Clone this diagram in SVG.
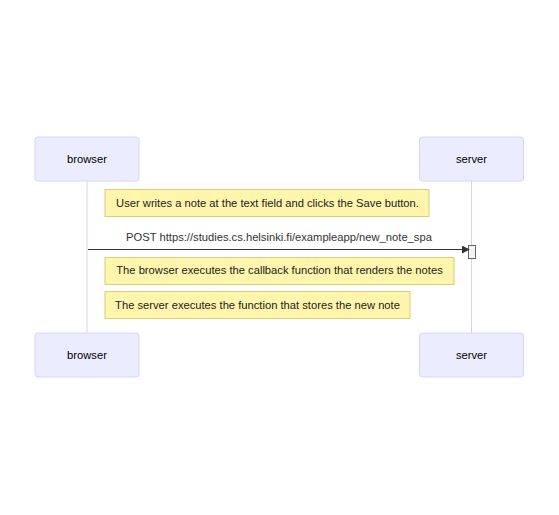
<svg xmlns="http://www.w3.org/2000/svg" width="559" height="515" viewBox="0 0 559 515">
  <style>
    .actor { fill: #ececff; stroke: #d5d5f7; stroke-width: 1; }
    .actor-text { font-family: "Liberation Sans", Arial, sans-serif; font-size: 11.2px; fill: #000; text-anchor: middle; dominant-baseline: central; }
    .lifeline { stroke: #d8d0f0; stroke-width: 1; }
    .note { fill: #fff5ad; stroke: #d6d07a; stroke-width: 1; }
    .note-text { font-family: "Liberation Sans", Arial, sans-serif; font-size: 11.2px; fill: #222; text-anchor: middle; dominant-baseline: central; }
    .msg-text { font-family: "Liberation Sans", Arial, sans-serif; font-size: 11.2px; fill: #333; text-anchor: middle; dominant-baseline: central; }
    .msg-line { stroke: #333; stroke-width: 1.2; fill: none; }
    .activation { fill: #f4f4f4; stroke: #666; stroke-width: 1; }
  </style>
  <defs>
    <marker id="arrowhead" viewBox="0 0 10 10" refX="9" refY="5" markerWidth="8" markerHeight="8" markerUnits="userSpaceOnUse" orient="auto">
      <path d="M0,0 L10,5 L0,10 z" fill="#333"/>
    </marker>
  </defs>
  <rect width="559" height="515" fill="#fff"/>

  <g id="lifelines">
    <line class="lifeline" x1="87" y1="181" x2="87" y2="333"/>
    <line class="lifeline" x1="471.5" y1="181" x2="471.5" y2="333"/>
  </g>

  <g id="browser-top">
    <rect class="actor" x="35" y="137" width="104" height="44" rx="3"/>
    <text class="actor-text" x="87" y="159">browser</text>
  </g>
  <g id="server-top">
    <rect class="actor" x="419.5" y="137" width="104" height="44" rx="3"/>
    <text class="actor-text" x="471.5" y="159">server</text>
  </g>
  <g id="browser-bottom">
    <rect class="actor" x="35" y="333" width="104" height="44" rx="3"/>
    <text class="actor-text" x="87" y="355">browser</text>
  </g>
  <g id="server-bottom">
    <rect class="actor" x="419.5" y="333" width="104" height="44" rx="3"/>
    <text class="actor-text" x="471.5" y="355">server</text>
  </g>

  <g id="note-1">
    <rect class="note" x="105" y="189.5" width="324" height="27"/>
    <text class="note-text" x="267.5" y="203">User writes a note at the text field and clicks the Save button.</text>
  </g>

  <g id="server-activation">
    <rect class="activation" x="468.5" y="245.5" width="7" height="13"/>
  </g>

  <g id="connectors">
    <text class="msg-text" x="279" y="237">POST https://studies.cs.helsinki.fi/exampleapp/new_note_spa</text>
    <line class="msg-line" x1="88" y1="249.5" x2="469" y2="249.5" marker-end="url(#arrowhead)"/>
  </g>

  <g id="note-2">
    <rect class="note" x="105" y="257.5" width="349" height="27"/>
    <text class="note-text" x="279.5" y="270">The browser executes the callback function that renders the notes</text>
  </g>
  <g id="note-3">
    <rect class="note" x="105" y="291.5" width="305" height="27"/>
    <text class="note-text" x="257.5" y="305">The server executes the function that stores the new note</text>
  </g>
</svg>
